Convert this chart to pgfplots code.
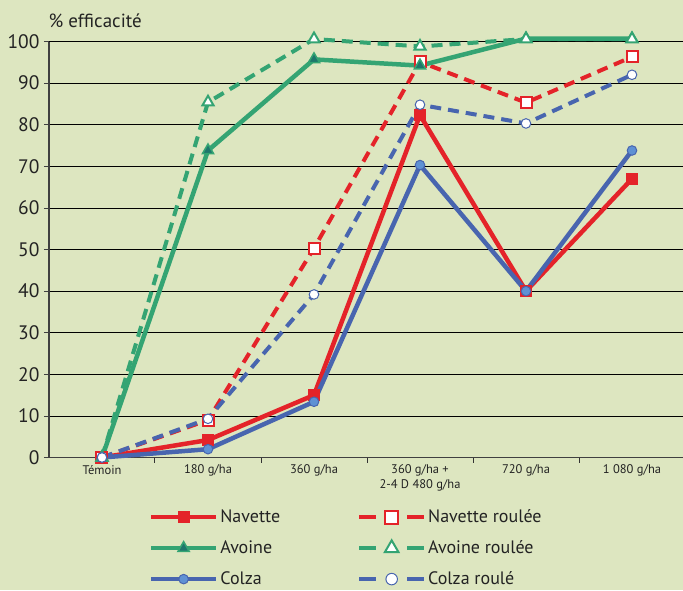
\documentclass[border=0pt]{standalone}
\usepackage{fontspec}
\setmainfont{PT Sans}
\usepackage{pgfplots}
\pgfplotsset{compat=1.18}
\definecolor{bg}{RGB}{221,230,192}
\definecolor{cred}{RGB}{228,35,41}
\definecolor{cgreen}{RGB}{52,164,115}
\definecolor{cteal}{RGB}{30,118,108}
\definecolor{cblue}{RGB}{72,101,175}
\definecolor{clblue}{RGB}{95,145,212}
\definecolor{txt}{RGB}{35,35,35}
\pgfplotsset{
  solidleg/.style={legend image code/.code={
    \draw[##1,mark repeat=2,mark phase=2] plot coordinates {(0pt,0pt) (32.5pt,0pt) (65pt,0pt)};}},
  dashleg/.style={legend image code/.code={
    \draw[##1,solid,mark=none] (0pt,0pt) -- (17pt,0pt) (48pt,0pt) -- (65pt,0pt);
    \draw[##1,/tikz/every mark/.append style={scale=1.2}] plot coordinates {(32.5pt,0pt)};}},
  sline/.style={line width=4.5pt, solid, solidleg},
  dline/.style={line width=4pt, dash pattern=on 11pt off 7pt, dashleg},
}
\begin{document}
\begin{tikzpicture}
\path[use as bounding box, fill=bg] (-49pt,-132.5pt) rectangle (634pt,457.5pt);
\begin{axis}[
  at={(0,0)}, anchor=south west,
  scale only axis, width=636pt, height=416pt,
  xmin=-0.5, xmax=5.5, ymin=0, ymax=100,
  clip=false,
  axis x line*=bottom, axis y line*=left,
  every inner x axis line/.append style={-},
  every inner y axis line/.append style={-},
  x axis line style={draw=black!75, line width=1.6pt},
  y axis line style={draw=black!75, line width=1.2pt},
  /pgf/number format/assume math mode=true,
  ytick={0,10,...,100},
  ymajorgrids,
  grid style={black, line width=0.8pt},
  ytick style={draw=black!75, line width=0.8pt},
  major tick length=5pt, tick align=outside,
  yticklabel style={font=\fontsize{19.5}{21}\selectfont, text=txt, xshift=-1pt},
  xtick={0.5,1.5,2.5,3.5,4.5},
  xticklabels={},
  xtick style={draw=black!80, line width=1pt},
  extra x ticks={0,1,2,3,4,5},
  extra x tick labels={Témoin, 180 g/ha, 360 g/ha, {360 g/ha +\\2-4 D 480 g/ha}, 720 g/ha, 1 080 g/ha},
  extra x tick style={major tick length=0pt, xmajorgrids=false,
     xticklabel style={font=\fontsize{12.5}{15}\selectfont, text=txt, align=center, yshift=-4pt}},
  legend columns=2,
  legend cell align=left,
  legend style={at={(axis description cs:0.152,-0.116)}, anchor=north west,
     draw=none, fill=none, font=\fontsize{18}{20}\selectfont, text=txt,
     row sep=12.5pt, /tikz/column 2/.style={column sep=75pt}},
]
\node[anchor=base west, font=\fontsize{19}{21}\selectfont, text=txt] at (rel axis cs:0,1) [xshift=-4pt, yshift=14.5pt] {\% efficacité};

\addplot[sline, cred, mark=square*, mark size=5.5pt, mark options={solid, fill=cred, draw=cred, line width=0.5pt}]
  coordinates {(0,0) (1,4.2) (2,15) (3,82.3) (4,40) (5,67)};
\addlegendentry{Navette}
\addplot[dline, cred, mark=square*, mark size=5.5pt, mark options={solid, fill=white, draw=cred, line width=2pt}]
  coordinates {(0,0) (1,9) (2,50.3) (3,95.1) (4,85.3) (5,96.3)};
\addlegendentry{Navette roulée}
\addplot[sline, cgreen, mark=triangle*, mark size=6.5pt, mark options={solid, fill=cteal, draw=cgreen, line width=1.5pt}]
  coordinates {(0,0) (1,73.8) (2,95.7) (3,94.2) (4,100.7) (5,100.7)};
\addlegendentry{Avoine}
\addplot[dline, cgreen, mark=triangle*, mark size=6.5pt, mark options={solid, fill=white, draw=cgreen, line width=2pt}]
  coordinates {(0,0) (1,85.4) (2,100.6) (3,98.8) (4,100.6) (5,100.6)};
\addlegendentry{Avoine roulée}
\addplot[sline, cblue, mark=*, mark size=4.8pt, mark options={solid, fill=clblue, draw=cblue, line width=1pt}]
  coordinates {(0,0) (1,2) (2,13.4) (3,70.3) (4,40) (5,73.8)};
\addlegendentry{Colza}
\addplot[dline, cblue, mark=*, mark size=4.8pt, mark options={solid, fill=white, draw=cblue, line width=1pt}]
  coordinates {(0,0) (1,9.3) (2,39.2) (3,84.8) (4,80.3) (5,92)};
\addlegendentry{Colza roulé}
\end{axis}
\end{tikzpicture}
\end{document}
